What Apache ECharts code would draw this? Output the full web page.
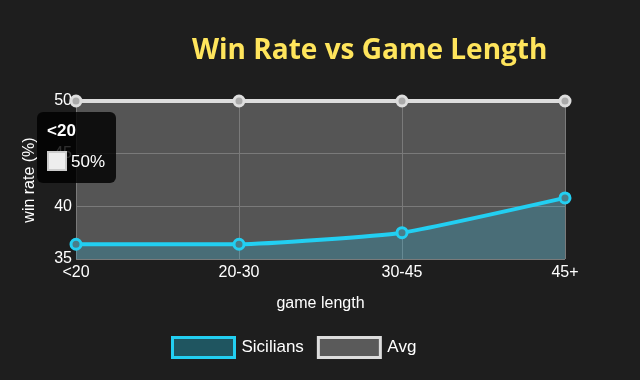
<!DOCTYPE html>
<html><head><meta charset="utf-8">
<script src="https://cdn.jsdelivr.net/npm/echarts@6/dist/echarts.min.js"></script>
<style>html,body{margin:0;padding:0;background:#1e1e1e;}#c{width:640px;height:380px;}</style>
</head><body><div id="c"></div>
<script>
const categories = ['<20', '20-30', '30-45', '45+'];
const sicilians = [36.4, 36.4, 37.5, 40.8];
const avg = [50, 50, 50, 50];
const yTicks = [35, 40, 45, 50];

const chart = echarts.init(document.getElementById('c'));
chart.setOption({
  backgroundColor: '#1e1e1e',
  animation: false,
  title: {
    text: 'Win Rate vs Game Length',
    left: 187, top: 32,
    textStyle: { color: '#ffe55c', fontSize: 28, fontWeight: 'bold', fontFamily: 'Open Sans' }
  },
  grid: { left: 76, right: 75, top: 101, bottom: 121, show: true, backgroundColor: '#555555', borderWidth: 0 },
  tooltip: {
    trigger: 'item',
    alwaysShowContent: true,
    position: [37, 112],
    backgroundColor: 'rgba(0,0,0,0.82)',
    borderWidth: 0,
    padding: [9, 10, 10, 10],
    extraCssText: 'border-radius:6px;box-shadow:none;width:59px;',
    formatter: function (p) {
      return '<div style="font:bold 17px Liberation Sans, Arial;color:#fff;line-height:20px;margin-bottom:10px">' + categories[p.dataIndex] + '</div>' +
        '<div style="font:17px Liberation Sans, Arial;color:#fff;line-height:22px;white-space:nowrap"><span style="display:inline-block;width:20px;height:20px;background:#eee;border:2px solid #ccc;box-sizing:border-box;vertical-align:-4px;margin-right:4px"></span>' + p.value + '%</div>';
    }
  },
  legend: {
    bottom: 16, left: 166,
    itemWidth: 62, itemHeight: 20, itemGap: 13,
    textStyle: { color: '#ffffff', fontSize: 17, fontFamily: 'Liberation Sans', padding: [0, 0, 0, 2] },
    data: [
      { name: 'Sicilians', icon: 'rect', itemStyle: { color: '#1f5560', borderColor: '#22cff2', borderWidth: 3 } },
      { name: 'Avg', icon: 'rect', itemStyle: { color: '#5a5a5a', borderColor: '#dddddd', borderWidth: 3 } }
    ]
  },
  xAxis: {
    type: 'category', data: categories, boundaryGap: false,
    name: 'game length', nameLocation: 'middle', nameGap: 37,
    nameTextStyle: { color: '#ffffff', fontSize: 16, fontFamily: 'Liberation Sans' },
    axisLine: { show: false }, axisTick: { show: false },
    axisLabel: { color: '#ffffff', fontSize: 16, fontFamily: 'Liberation Sans', margin: 6 },
    splitLine: { show: true, lineStyle: { color: '#7a7a7a', width: 1 } }
  },
  yAxis: {
    type: 'value', min: yTicks[0], max: yTicks[yTicks.length - 1], interval: 5,
    name: 'win rate (%)', nameLocation: 'middle', nameGap: 38, nameRotate: 90,
    nameTextStyle: { color: '#ffffff', fontSize: 16, fontFamily: 'Liberation Sans' },
    axisLine: { show: false }, axisTick: { show: false },
    axisLabel: { color: '#ffffff', fontSize: 16, fontFamily: 'Liberation Sans', margin: 4 },
    splitLine: { show: true, lineStyle: { color: '#7a7a7a', width: 1 } }
  },
  series: [
    {
      name: 'Sicilians', type: 'line', data: sicilians, smooth: 0.15,
      symbol: 'circle', symbolSize: 10,
      lineStyle: { color: '#22cff2', width: 4 },
      itemStyle: { color: '#4a7d89', borderColor: '#22cff2', borderWidth: 3 },
      areaStyle: { color: 'rgba(30,200,245,0.3)', origin: 'start' },
      z: 3
    },
    {
      name: 'Avg', type: 'line', data: avg,
      symbol: 'circle', symbolSize: 10,
      lineStyle: { color: '#dddddd', width: 4 },
      itemStyle: { color: '#aaaaaa', borderColor: '#dddddd', borderWidth: 3 },
      z: 4
    }
  ]
});
chart.dispatchAction({ type: 'showTip', seriesIndex: 1, dataIndex: 0 });
</script>
</body></html>
